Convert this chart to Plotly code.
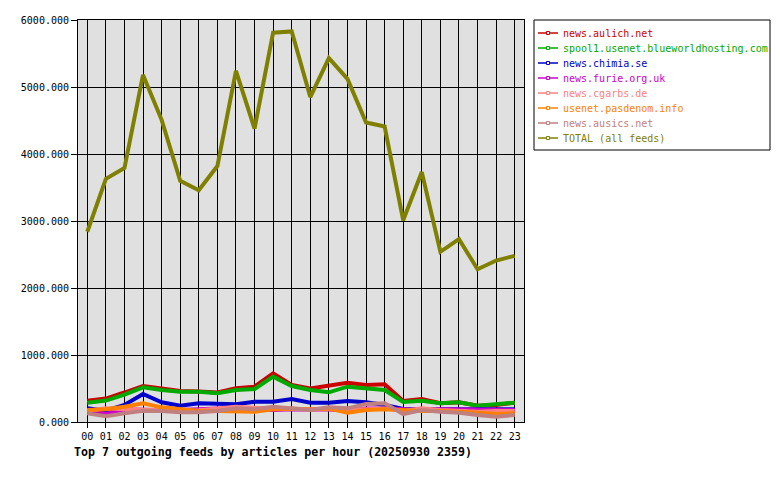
import plotly.graph_objects as go

hours = ["00", "01", "02", "03", "04", "05", "06", "07", "08", "09", "10", "11",
         "12", "13", "14", "15", "16", "17", "18", "19", "20", "21", "22", "23"]

aulich = [318, 350, 440, 537, 502, 463, 455, 440, 503, 527, 727, 552,
          502, 542, 587, 552, 562, 313, 343, 279, 294, 244, 254, 288]
blueworld = [288, 320, 410, 518, 478, 453, 453, 428, 478, 493, 677, 537,
             478, 443, 527, 502, 478, 298, 318, 279, 294, 244, 264, 288]
chimia = [204, 169, 254, 418, 294, 244, 279, 279, 264, 303, 303, 343,
          288, 288, 313, 294, 254, 194, 189, 189, 189, 189, 189, 189]
furie = [150, 120, 190, 180, 175, 180, 185, 200, 190, 180, 180, 190,
         190, 185, 170, 200, 200, 190, 180, 190, 190, 190, 190, 180]
cgarbs = [169, 204, 189, 179, 175, 170, 175, 200, 229, 214, 204, 200,
          190, 195, 185, 190, 200, 164, 204, 179, 164, 154, 164, 164]
pasdenom = [179, 189, 229, 279, 219, 189, 164, 164, 154, 154, 189, 199,
            189, 199, 139, 179, 189, 174, 164, 164, 154, 139, 119, 129]
ausics = [129, 85, 129, 169, 164, 144, 144, 164, 204, 189, 229, 204,
          179, 219, 204, 270, 279, 119, 179, 154, 139, 104, 80, 104]
total = [2840, 3630, 3790, 5180, 4510, 3600, 3460, 3820, 5240, 4380, 5810, 5830,
         4850, 5430, 5120, 4470, 4410, 3010, 3730, 2540, 2730, 2280, 2410, 2480]

names = ["news.aulich.net", "spool1.usenet.blueworldhosting.com", "news.chimia.se",
         "news.furie.org.uk", "news.cgarbs.de", "usenet.pasdenom.info",
         "news.ausics.net", "TOTAL (all feeds)"]
values = [aulich, blueworld, chimia, furie, cgarbs, pasdenom, ausics, total]
colors = ["#cc0000", "#00aa00", "#0000cc", "#cc00cc", "#ff8080", "#ff8000",
          "#c08080", "#808000"]

W, H = 780, 480
L, R, T, B = 78, 256, 20, 58
PW, PH = W - L - R, H - T - B


def px(x):
    return (x - L) / PW


def py(y):
    return (H - B - y) / PH


xs = list(range(len(hours)))
fig = go.Figure()
for name, vals, col in zip(names, values, colors):
    fig.add_trace(go.Scatter(x=xs, y=vals, mode="lines", name=name,
                             line=dict(color=col, width=4),
                             showlegend=False, hoverinfo="skip"))

mono = "DejaVu Sans Mono"
shapes = [dict(type="rect", xref="paper", yref="paper",
               x0=px(534), x1=px(770), y0=py(20), y1=py(150),
               line=dict(color="black", width=1), fillcolor="white", layer="above")]
annotations = []
for i, (name, col) in enumerate(zip(names, colors)):
    cy = 33 + 15 * i
    shapes.append(dict(type="line", xref="paper", yref="paper",
                       x0=px(538), x1=px(558), y0=py(cy), y1=py(cy),
                       line=dict(color=col, width=1.5), layer="above"))
    shapes.append(dict(type="rect", xref="paper", yref="paper",
                       x0=px(546.5), x1=px(549.5), y0=py(cy - 1.5), y1=py(cy + 1.5),
                       line=dict(color=col, width=1), fillcolor="white", layer="above"))
    annotations.append(dict(text=name, xref="paper", yref="paper",
                            x=px(561), y=py(cy), xanchor="left", yanchor="middle",
                            showarrow=False,
                            font=dict(family=mono, size=10, color=col)))

annotations.append(dict(text="<b>Top 7 outgoing feeds by articles per hour (20250930 2359)</b>",
                        xref="paper", yref="paper", x=px(72), y=py(452),
                        xanchor="left", yanchor="middle", showarrow=False,
                        font=dict(family=mono, size=11.6, color="black")))

fig.update_layout(
    width=W, height=H,
    margin=dict(l=L, r=R, t=T, b=B),
    paper_bgcolor="white", plot_bgcolor="#e0e0e0",
    font=dict(family=mono, size=10, color="black"),
    showlegend=False,
    xaxis=dict(range=[-0.5, 23.5], tickmode="array", tickvals=xs, ticktext=hours,
               showgrid=True, gridcolor="black", gridwidth=1,
               ticks="outside", ticklen=5, tickcolor="black",
               showline=True, linecolor="black", linewidth=1, mirror=True,
               zeroline=False, fixedrange=True),
    yaxis=dict(range=[0, 6000], tickmode="linear", tick0=0, dtick=1000,
               tickformat=".3f",
               showgrid=True, gridcolor="black", gridwidth=1,
               ticks="outside", ticklen=6, tickcolor="black",
               showline=True, linecolor="black", linewidth=1, mirror=True,
               zeroline=False, fixedrange=True),
    shapes=shapes,
    annotations=annotations,
)
fig.write_html("out.html")
